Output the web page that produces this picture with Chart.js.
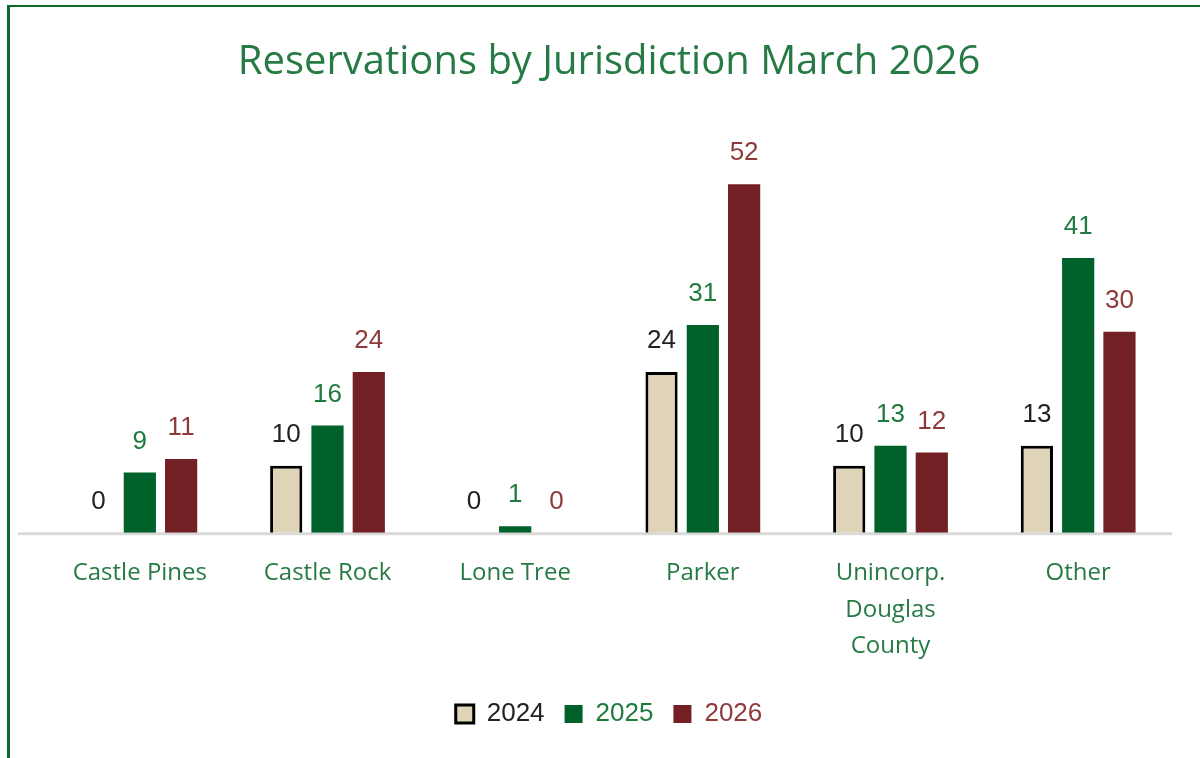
<!DOCTYPE html>
<html>
<head>
<meta charset="utf-8">
<script src="https://cdn.jsdelivr.net/npm/chart.js@4/dist/chart.umd.min.js"></script>
<style>
    html, body { margin: 0; padding: 0; background: #fff; }
    #wrap { position: relative; width: 1200px; height: 758px; }
    #frame {
        position: absolute; left: 7px; top: 5px; right: 0; bottom: 0;
        border-left: 3px solid #0b6a2c; border-top: 2px solid #0b6a2c;
    }
    canvas { position: absolute; left: 0; top: 0; }
</style>
</head>
<body>
<div id="wrap">
    <div id="frame"></div>
    <canvas id="chart1" width="1200" height="758"></canvas>
</div>
<script>
// DATA
var categories = [["Castle Pines"], ["Castle Rock"], ["Lone Tree"], ["Parker"], ["Unincorp.", "Douglas", "County"], ["Other"]];
var seriesNames = ["2024", "2025", "2026"];
var values2024 = [0, 10, 0, 24, 10, 13];
var values2025 = [9, 16, 1, 31, 13, 41];
var values2026 = [11, 24, 0, 52, 12, 30];

var fillColors = ['#dfd3b8', '#00612a', '#722024'];
var labelColors = ['#222222', '#1f7a3e', '#8e3a3a'];
var greenText = '#267a44';

// value labels above each bar
var barLabels = {
    id: 'barLabels',
    afterDatasetsDraw: function (chart) {
        var ctx = chart.ctx;
        ctx.save();
        ctx.font = '26px "Liberation Sans", Arial, sans-serif';
        ctx.textAlign = 'center';
        ctx.textBaseline = 'middle';
        chart.data.datasets.forEach(function (ds, i) {
            var meta = chart.getDatasetMeta(i);
            ctx.fillStyle = labelColors[i];
            meta.data.forEach(function (bar, j) {
                ctx.fillText(String(ds.data[j]), bar.x, bar.y - 31);
            });
        });
        ctx.restore();
    }
};

// light gray baseline that runs a little past the plot on the left
var baseLine = {
    id: 'baseLine',
    beforeDatasetsDraw: function (chart) {
        var ctx = chart.ctx, y = chart.scales.y.getPixelForValue(0);
        ctx.save();
        ctx.strokeStyle = '#d9d9d9';
        ctx.lineWidth = 3;
        ctx.beginPath();
        ctx.moveTo(18, y + 1);
        ctx.lineTo(chart.chartArea.right, y + 1);
        ctx.stroke();
        ctx.restore();
    }
};

var ctxChart1 = document.getElementById('chart1').getContext('2d');
var chart1 = new Chart(ctxChart1, {
    type: 'bar',
    plugins: [barLabels, baseLine],
    data: {
        labels: categories,
        datasets: [{
            label: seriesNames[0],
            data: values2024,
            backgroundColor: fillColors[0],
            borderColor: '#000000',
            borderWidth: function (c) { return c.raw === 0 ? 0 : 3; },
            borderSkipped: 'bottom'
        }, {
            label: seriesNames[1],
            data: values2025,
            backgroundColor: fillColors[1],
            borderWidth: 0
        }, {
            label: seriesNames[2],
            data: values2026,
            backgroundColor: fillColors[2],
            borderWidth: 0
        }]
    }, options: {
        responsive: false,
        animation: false,
        categoryPercentage: 0.66,
        barPercentage: 0.78,
        layout: { padding: { left: 46, right: 28, top: 20, bottom: 21 } },
        plugins: {
            legend: {
                position: 'bottom',
                labels: {
                    font: { size: 26, family: '"Liberation Sans", Arial, sans-serif' },
                    boxWidth: 18,
                    boxHeight: 18,
                    padding: 20,
                    generateLabels: function (chart) {
                        return chart.data.datasets.map(function (ds, i) {
                            return {
                                text: ds.label,
                                fillStyle: fillColors[i],
                                strokeStyle: i === 0 ? '#000000' : fillColors[i],
                                lineWidth: i === 0 ? 3 : 0,
                                fontColor: labelColors[i],
                                datasetIndex: i
                            };
                        });
                    }
                }
            },
            title: {
                display: true,
                text: 'Reservations by Jurisdiction March 2026',
                color: greenText,
                font: { size: 40, weight: 'normal', family: '"Open Sans", sans-serif' },
                padding: { top: 19, bottom: 37 }
            },
            tooltip: { enabled: false }
        }, scales: {
            x: {
                grid: { display: false, drawTicks: false },
                border: { display: false },
                ticks: {
                    color: greenText,
                    font: { size: 24, family: '"Open Sans", sans-serif', lineHeight: 1.53 },
                    padding: 22,
                    maxRotation: 0
                },
                afterFit: function (scale) { scale.height -= 6; }
            },
            y: {
                display: false,
                min: 0,
                max: 61
            }
        }
    },
});
</script>
</body>
</html>
